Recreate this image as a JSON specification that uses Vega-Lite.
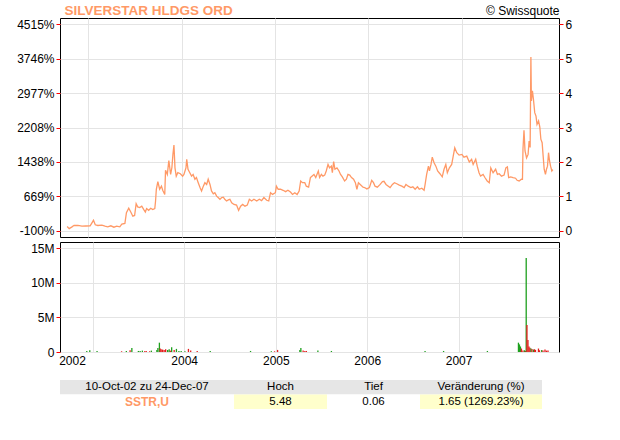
{
  "$schema": "https://vega.github.io/schema/vega-lite/v6.json",
  "background": "white",
  "padding": {"left": 16, "top": 2, "right": 5, "bottom": 5},
  "config": {
    "font": "Liberation Sans",
    "view": {"stroke": "black", "strokeWidth": 1},
    "axis": {
      "labelFont": "Liberation Sans", "labelFontSize": 12, "labelColor": "black",
      "gridColor": "#e4e4e4", "gridWidth": 1, "tickColor": "#ff0000", "tickSize": 4, "tickWidth": 1,
      "labelPadding": 2, "domain": false, "title": null
    }
  },
  "datasets": {
    "price": [
      {"date": "2002-10-10", "close": 0.13}, {"date": "2002-10-18", "close": 0.07}, {"date": "2002-10-29", "close": 0.12},
      {"date": "2002-11-06", "close": 0.165}, {"date": "2002-11-21", "close": 0.16}, {"date": "2002-12-07", "close": 0.14},
      {"date": "2002-12-22", "close": 0.145}, {"date": "2003-01-08", "close": 0.15}, {"date": "2003-01-21", "close": 0.31},
      {"date": "2003-01-28", "close": 0.18}, {"date": "2003-02-07", "close": 0.16}, {"date": "2003-02-23", "close": 0.17},
      {"date": "2003-03-07", "close": 0.14}, {"date": "2003-03-18", "close": 0.12}, {"date": "2003-03-30", "close": 0.15},
      {"date": "2003-04-11", "close": 0.11}, {"date": "2003-04-22", "close": 0.14}, {"date": "2003-05-04", "close": 0.12},
      {"date": "2003-05-12", "close": 0.20}, {"date": "2003-05-24", "close": 0.22}, {"date": "2003-05-30", "close": 0.53},
      {"date": "2003-06-08", "close": 0.66}, {"date": "2003-06-16", "close": 0.55}, {"date": "2003-06-24", "close": 0.43},
      {"date": "2003-07-01", "close": 0.45}, {"date": "2003-07-07", "close": 0.79}, {"date": "2003-07-13", "close": 0.70},
      {"date": "2003-07-21", "close": 0.68}, {"date": "2003-07-29", "close": 0.72}, {"date": "2003-08-06", "close": 0.62},
      {"date": "2003-08-12", "close": 0.55}, {"date": "2003-08-17", "close": 0.65}, {"date": "2003-08-25", "close": 0.60},
      {"date": "2003-09-02", "close": 0.66}, {"date": "2003-09-10", "close": 0.62}, {"date": "2003-09-18", "close": 0.65},
      {"date": "2003-09-21", "close": 0.87}, {"date": "2003-09-24", "close": 1.21}, {"date": "2003-09-30", "close": 1.43},
      {"date": "2003-10-07", "close": 1.21}, {"date": "2003-10-14", "close": 1.30}, {"date": "2003-10-19", "close": 1.18},
      {"date": "2003-10-27", "close": 1.06}, {"date": "2003-10-30", "close": 1.76}, {"date": "2003-11-06", "close": 1.64},
      {"date": "2003-11-12", "close": 2.04}, {"date": "2003-11-19", "close": 1.64}, {"date": "2003-11-24", "close": 1.84},
      {"date": "2003-11-28", "close": 2.22}, {"date": "2003-12-02", "close": 2.49}, {"date": "2003-12-06", "close": 1.83},
      {"date": "2003-12-11", "close": 1.59}, {"date": "2003-12-17", "close": 1.69}, {"date": "2003-12-27", "close": 1.66},
      {"date": "2004-01-05", "close": 1.59}, {"date": "2004-01-10", "close": 1.64}, {"date": "2004-01-18", "close": 1.83},
      {"date": "2004-01-21", "close": 2.08}, {"date": "2004-01-26", "close": 1.79}, {"date": "2004-02-02", "close": 1.69},
      {"date": "2004-02-09", "close": 1.59}, {"date": "2004-02-15", "close": 1.64}, {"date": "2004-02-22", "close": 1.50},
      {"date": "2004-02-28", "close": 1.55}, {"date": "2004-03-06", "close": 1.40}, {"date": "2004-03-13", "close": 1.26},
      {"date": "2004-03-19", "close": 1.16}, {"date": "2004-03-26", "close": 1.30}, {"date": "2004-04-01", "close": 1.40},
      {"date": "2004-04-08", "close": 1.35}, {"date": "2004-04-14", "close": 1.50}, {"date": "2004-04-21", "close": 1.35},
      {"date": "2004-04-27", "close": 1.16}, {"date": "2004-05-04", "close": 1.08}, {"date": "2004-05-10", "close": 1.11},
      {"date": "2004-05-17", "close": 1.01}, {"date": "2004-05-23", "close": 0.97}, {"date": "2004-05-30", "close": 0.92},
      {"date": "2004-06-06", "close": 0.97}, {"date": "2004-06-12", "close": 0.98}, {"date": "2004-06-18", "close": 0.92},
      {"date": "2004-06-25", "close": 0.87}, {"date": "2004-07-02", "close": 0.90}, {"date": "2004-07-08", "close": 0.92},
      {"date": "2004-07-15", "close": 0.82}, {"date": "2004-07-24", "close": 0.77}, {"date": "2004-08-03", "close": 0.75},
      {"date": "2004-08-11", "close": 0.60}, {"date": "2004-08-19", "close": 0.72}, {"date": "2004-08-27", "close": 0.77},
      {"date": "2004-09-05", "close": 0.72}, {"date": "2004-09-14", "close": 0.75}, {"date": "2004-09-22", "close": 0.92},
      {"date": "2004-10-01", "close": 0.87}, {"date": "2004-10-10", "close": 0.92}, {"date": "2004-10-21", "close": 0.87},
      {"date": "2004-10-31", "close": 0.92}, {"date": "2004-11-09", "close": 0.88}, {"date": "2004-11-18", "close": 0.97},
      {"date": "2004-11-29", "close": 0.89}, {"date": "2004-12-07", "close": 0.87}, {"date": "2004-12-14", "close": 1.11},
      {"date": "2004-12-22", "close": 1.06}, {"date": "2005-01-02", "close": 1.11}, {"date": "2005-01-06", "close": 1.30},
      {"date": "2005-01-13", "close": 1.21}, {"date": "2005-01-22", "close": 1.21}, {"date": "2005-02-01", "close": 1.18},
      {"date": "2005-02-11", "close": 1.14}, {"date": "2005-02-20", "close": 1.18}, {"date": "2005-03-02", "close": 1.13},
      {"date": "2005-03-10", "close": 1.06}, {"date": "2005-03-19", "close": 1.11}, {"date": "2005-03-28", "close": 1.06},
      {"date": "2005-04-05", "close": 1.16}, {"date": "2005-04-11", "close": 1.45}, {"date": "2005-04-18", "close": 1.40},
      {"date": "2005-04-27", "close": 1.40}, {"date": "2005-05-03", "close": 1.30}, {"date": "2005-05-12", "close": 1.27},
      {"date": "2005-05-19", "close": 1.55}, {"date": "2005-05-25", "close": 1.59}, {"date": "2005-06-02", "close": 1.64},
      {"date": "2005-06-09", "close": 1.55}, {"date": "2005-06-19", "close": 1.74}, {"date": "2005-06-24", "close": 1.55},
      {"date": "2005-07-01", "close": 1.64}, {"date": "2005-07-07", "close": 1.59}, {"date": "2005-07-14", "close": 1.62},
      {"date": "2005-07-20", "close": 1.74}, {"date": "2005-07-27", "close": 1.93}, {"date": "2005-08-02", "close": 1.83},
      {"date": "2005-08-09", "close": 1.88}, {"date": "2005-08-13", "close": 1.69}, {"date": "2005-08-18", "close": 2.01},
      {"date": "2005-08-23", "close": 1.79}, {"date": "2005-08-31", "close": 1.83}, {"date": "2005-09-08", "close": 1.74},
      {"date": "2005-09-14", "close": 1.64}, {"date": "2005-09-21", "close": 1.57}, {"date": "2005-09-30", "close": 1.45},
      {"date": "2005-10-07", "close": 1.50}, {"date": "2005-10-13", "close": 1.64}, {"date": "2005-10-20", "close": 1.62},
      {"date": "2005-10-27", "close": 1.55}, {"date": "2005-11-04", "close": 1.50}, {"date": "2005-11-11", "close": 1.40},
      {"date": "2005-11-17", "close": 1.21}, {"date": "2005-11-23", "close": 1.40}, {"date": "2005-11-30", "close": 1.35},
      {"date": "2005-12-11", "close": 1.27}, {"date": "2005-12-17", "close": 1.26}, {"date": "2005-12-26", "close": 1.22},
      {"date": "2006-01-05", "close": 1.26}, {"date": "2006-01-14", "close": 1.47}, {"date": "2006-01-21", "close": 1.40},
      {"date": "2006-01-27", "close": 1.30}, {"date": "2006-02-05", "close": 1.27}, {"date": "2006-02-16", "close": 1.35},
      {"date": "2006-02-25", "close": 1.43}, {"date": "2006-03-03", "close": 1.44}, {"date": "2006-03-11", "close": 1.35},
      {"date": "2006-03-20", "close": 1.30}, {"date": "2006-03-27", "close": 1.26}, {"date": "2006-04-05", "close": 1.35},
      {"date": "2006-04-13", "close": 1.40}, {"date": "2006-04-22", "close": 1.37}, {"date": "2006-05-02", "close": 1.33},
      {"date": "2006-05-12", "close": 1.30}, {"date": "2006-05-21", "close": 1.26}, {"date": "2006-05-28", "close": 1.35},
      {"date": "2006-06-06", "close": 1.30}, {"date": "2006-06-16", "close": 1.26}, {"date": "2006-06-24", "close": 1.28},
      {"date": "2006-07-03", "close": 1.21}, {"date": "2006-07-12", "close": 1.28}, {"date": "2006-07-19", "close": 1.21},
      {"date": "2006-07-29", "close": 1.24}, {"date": "2006-08-07", "close": 1.18}, {"date": "2006-08-11", "close": 1.35},
      {"date": "2006-08-17", "close": 1.64}, {"date": "2006-08-24", "close": 1.88}, {"date": "2006-08-28", "close": 1.74},
      {"date": "2006-09-03", "close": 1.93}, {"date": "2006-09-08", "close": 2.14}, {"date": "2006-09-15", "close": 1.98},
      {"date": "2006-09-22", "close": 1.88}, {"date": "2006-09-29", "close": 1.74}, {"date": "2006-10-08", "close": 1.66},
      {"date": "2006-10-17", "close": 1.57}, {"date": "2006-10-24", "close": 1.79}, {"date": "2006-10-31", "close": 1.93},
      {"date": "2006-11-06", "close": 1.69}, {"date": "2006-11-14", "close": 1.83}, {"date": "2006-11-23", "close": 1.93},
      {"date": "2006-11-29", "close": 2.17}, {"date": "2006-12-05", "close": 2.41}, {"date": "2006-12-13", "close": 2.27},
      {"date": "2006-12-22", "close": 2.20}, {"date": "2007-01-02", "close": 2.22}, {"date": "2007-01-10", "close": 2.14},
      {"date": "2007-01-21", "close": 2.17}, {"date": "2007-01-31", "close": 2.00}, {"date": "2007-02-09", "close": 2.08},
      {"date": "2007-02-15", "close": 1.93}, {"date": "2007-02-25", "close": 2.08}, {"date": "2007-03-03", "close": 1.88},
      {"date": "2007-03-10", "close": 1.69}, {"date": "2007-03-16", "close": 1.59}, {"date": "2007-03-26", "close": 1.64},
      {"date": "2007-04-02", "close": 1.55}, {"date": "2007-04-11", "close": 1.45}, {"date": "2007-04-19", "close": 1.40},
      {"date": "2007-04-25", "close": 1.83}, {"date": "2007-05-04", "close": 1.69}, {"date": "2007-05-14", "close": 1.79},
      {"date": "2007-05-21", "close": 1.64}, {"date": "2007-05-28", "close": 1.66}, {"date": "2007-06-06", "close": 1.59},
      {"date": "2007-06-16", "close": 1.62}, {"date": "2007-06-23", "close": 1.83}, {"date": "2007-06-29", "close": 1.86},
      {"date": "2007-07-04", "close": 1.55}, {"date": "2007-07-12", "close": 1.57}, {"date": "2007-07-21", "close": 1.55},
      {"date": "2007-07-31", "close": 1.53}, {"date": "2007-08-06", "close": 1.47}, {"date": "2007-08-14", "close": 1.45},
      {"date": "2007-08-23", "close": 1.50}, {"date": "2007-08-27", "close": 1.50}, {"date": "2007-08-29", "close": 2.37},
      {"date": "2007-09-02", "close": 2.92}, {"date": "2007-09-06", "close": 2.32}, {"date": "2007-09-12", "close": 2.12},
      {"date": "2007-09-18", "close": 2.22}, {"date": "2007-09-22", "close": 2.61}, {"date": "2007-09-26", "close": 2.42},
      {"date": "2007-09-29", "close": 5.04}, {"date": "2007-10-01", "close": 3.77}, {"date": "2007-10-05", "close": 4.06},
      {"date": "2007-10-09", "close": 3.82}, {"date": "2007-10-14", "close": 3.43}, {"date": "2007-10-19", "close": 3.33},
      {"date": "2007-10-23", "close": 3.09}, {"date": "2007-10-29", "close": 3.19}, {"date": "2007-11-03", "close": 3.01},
      {"date": "2007-11-07", "close": 2.66}, {"date": "2007-11-12", "close": 2.56}, {"date": "2007-11-16", "close": 2.17},
      {"date": "2007-11-20", "close": 1.79}, {"date": "2007-11-25", "close": 1.64}, {"date": "2007-11-29", "close": 1.79},
      {"date": "2007-12-03", "close": 1.88}, {"date": "2007-12-07", "close": 2.27}, {"date": "2007-12-11", "close": 2.03},
      {"date": "2007-12-15", "close": 1.88}, {"date": "2007-12-20", "close": 1.74}, {"date": "2007-12-24", "close": 1.78}
    ],
    "volume": [
      {"date": "2002-12-08", "dir": "up", "volume": 150000}, {"date": "2002-12-20", "dir": "up", "volume": 240000},
      {"date": "2003-01-18", "dir": "up", "volume": 150000}, {"date": "2003-04-26", "dir": "down", "volume": 100000},
      {"date": "2003-05-15", "dir": "up", "volume": 150000}, {"date": "2003-05-30", "dir": "down", "volume": 250000},
      {"date": "2003-06-06", "dir": "up", "volume": 580000}, {"date": "2003-07-02", "dir": "up", "volume": 150000},
      {"date": "2003-07-09", "dir": "up", "volume": 150000}, {"date": "2003-07-18", "dir": "up", "volume": 200000},
      {"date": "2003-07-28", "dir": "down", "volume": 150000}, {"date": "2003-08-03", "dir": "down", "volume": 120000},
      {"date": "2003-08-16", "dir": "down", "volume": 100000}, {"date": "2003-08-23", "dir": "up", "volume": 200000},
      {"date": "2003-09-14", "dir": "up", "volume": 300000}, {"date": "2003-09-18", "dir": "up", "volume": 580000},
      {"date": "2003-09-24", "dir": "up", "volume": 1350000}, {"date": "2003-09-27", "dir": "down", "volume": 500000},
      {"date": "2003-10-01", "dir": "down", "volume": 400000}, {"date": "2003-10-07", "dir": "down", "volume": 350000},
      {"date": "2003-10-13", "dir": "down", "volume": 300000}, {"date": "2003-10-19", "dir": "down", "volume": 380000},
      {"date": "2003-10-27", "dir": "up", "volume": 300000}, {"date": "2003-11-02", "dir": "up", "volume": 400000},
      {"date": "2003-11-07", "dir": "down", "volume": 200000}, {"date": "2003-11-12", "dir": "up", "volume": 700000},
      {"date": "2003-11-22", "dir": "down", "volume": 300000}, {"date": "2003-12-01", "dir": "up", "volume": 450000},
      {"date": "2003-12-11", "dir": "up", "volume": 150000}, {"date": "2003-12-20", "dir": "up", "volume": 150000},
      {"date": "2004-01-04", "dir": "up", "volume": 120000}, {"date": "2004-01-18", "dir": "down", "volume": 450000},
      {"date": "2004-01-27", "dir": "down", "volume": 200000}, {"date": "2004-02-22", "dir": "down", "volume": 150000},
      {"date": "2004-04-14", "dir": "up", "volume": 150000}, {"date": "2004-09-22", "dir": "up", "volume": 150000},
      {"date": "2004-12-14", "dir": "up", "volume": 100000}, {"date": "2004-12-27", "dir": "down", "volume": 100000},
      {"date": "2005-01-08", "dir": "down", "volume": 300000}, {"date": "2005-04-07", "dir": "up", "volume": 300000},
      {"date": "2005-04-11", "dir": "up", "volume": 580000}, {"date": "2005-04-20", "dir": "down", "volume": 200000},
      {"date": "2005-04-27", "dir": "down", "volume": 150000}, {"date": "2005-05-03", "dir": "down", "volume": 150000},
      {"date": "2005-06-18", "dir": "up", "volume": 200000}, {"date": "2005-08-11", "dir": "up", "volume": 150000},
      {"date": "2006-08-20", "dir": "up", "volume": 150000}, {"date": "2006-11-02", "dir": "up", "volume": 150000},
      {"date": "2007-04-26", "dir": "up", "volume": 150000}, {"date": "2007-08-28", "dir": "up", "volume": 1350000},
      {"date": "2007-09-01", "dir": "up", "volume": 1100000}, {"date": "2007-09-05", "dir": "up", "volume": 800000},
      {"date": "2007-09-09", "dir": "down", "volume": 500000}, {"date": "2007-09-15", "dir": "down", "volume": 200000},
      {"date": "2007-09-21", "dir": "up", "volume": 250000}, {"date": "2007-09-25", "dir": "down", "volume": 150000},
      {"date": "2007-09-28", "dir": "up", "volume": 13600000}, {"date": "2007-10-01", "dir": "down", "volume": 3900000},
      {"date": "2007-10-05", "dir": "down", "volume": 1730000}, {"date": "2007-10-09", "dir": "down", "volume": 800000},
      {"date": "2007-10-13", "dir": "down", "volume": 600000}, {"date": "2007-10-17", "dir": "up", "volume": 500000},
      {"date": "2007-10-21", "dir": "down", "volume": 450000}, {"date": "2007-10-27", "dir": "up", "volume": 350000},
      {"date": "2007-10-31", "dir": "down", "volume": 400000}, {"date": "2007-11-04", "dir": "down", "volume": 300000},
      {"date": "2007-11-16", "dir": "down", "volume": 500000}, {"date": "2007-11-20", "dir": "down", "volume": 250000},
      {"date": "2007-11-29", "dir": "up", "volume": 300000}, {"date": "2007-12-04", "dir": "down", "volume": 200000},
      {"date": "2007-12-12", "dir": "down", "volume": 350000}, {"date": "2007-12-18", "dir": "down", "volume": 200000},
      {"date": "2007-12-24", "dir": "down", "volume": 200000}
    ],
    "table": [
      {"col": 1, "row": 1, "text": "10-Oct-02 zu 24-Dec-07"},
      {"col": 1, "row": 2, "text": "SSTR,U"},
      {"col": 2, "row": 1, "text": "Hoch"},
      {"col": 2, "row": 2, "text": "5.48"},
      {"col": 3, "row": 1, "text": "Tief"},
      {"col": 3, "row": 2, "text": "0.06"},
      {"col": 4, "row": 1, "text": "Veränderung (%)"},
      {"col": 4, "row": 2, "text": "1.65 (1269.23%)"}
    ]
  },
  "spacing": 13,
  "vconcat": [
    {
      "spacing": 3,
      "vconcat": [
        {
          "width": 499,
          "height": 219,
          "data": {"name": "price"},
          "layer": [
            {
              "mark": {"type": "line", "color": "#ff9966", "strokeWidth": 1.3},
              "encoding": {
                "x": {
                  "field": "date", "type": "temporal",
                  "scale": {"domain": [{"year": 2002, "month": 9, "date": 12}, {"year": 2008, "month": 1, "date": 17}]},
                  "axis": {
                    "values": [{"year": 2002, "month": 10, "date": 10}, {"year": 2003, "month": 1, "date": 1}, {"year": 2004, "month": 1, "date": 1}, {"year": 2005, "month": 1, "date": 1}, {"year": 2006, "month": 1, "date": 1}, {"year": 2007, "month": 1, "date": 1}],
                    "labels": false, "ticks": false, "grid": true,
                    "gridOpacity": {"condition": {"test": "datum.value < datetime(2002, 11, 1)", "value": 0}, "value": 1}
                  }
                },
                "y": {
                  "field": "close", "type": "quantitative",
                  "scale": {"domain": [-0.174, 6.174], "nice": false, "zero": false},
                  "axis": {
                    "orient": "left", "values": [0, 1, 2, 3, 4, 5, 6], "grid": true,
                    "labelExpr": "round((datum.value / 0.13 - 1) * 100) + '%'",
                    "title": "SILVERSTAR HLDGS ORD", "titleAngle": 0, "titleAlign": "left", "titleBaseline": "alphabetic",
                    "titleX": 4, "titleY": -4, "titleFontSize": 13.5, "titleFontWeight": "bold", "titleColor": "#ff9966", "titleFont": "Liberation Sans"
                  }
                }
              }
            },
            {
              "mark": {"type": "line", "opacity": 0},
              "encoding": {
                "x": {"field": "date", "type": "temporal"},
                "y": {
                  "field": "close", "type": "quantitative",
                  "scale": {"domain": [-0.174, 6.174], "nice": false, "zero": false},
                  "axis": {
                    "orient": "right", "values": [0, 1, 2, 3, 4, 5, 6], "grid": false, "format": "d",
                    "title": "© Swissquote", "titleAngle": 0, "titleAlign": "right", "titleBaseline": "alphabetic",
                    "titleX": 0, "titleY": -4, "titleFontSize": 12, "titleFontWeight": "normal", "titleColor": "black", "titleFont": "Liberation Sans"
                  }
                }
              }
            }
          ],
          "resolve": {"scale": {"y": "independent"}}
        },
        {
          "width": 499,
          "height": 110,
          "data": {"name": "volume"},
          "mark": {"type": "bar", "size": 1.3},
          "encoding": {
            "x": {
              "field": "date", "type": "temporal",
              "scale": {"domain": [{"year": 2002, "month": 9, "date": 12}, {"year": 2008, "month": 1, "date": 17}]},
              "axis": {
                "values": [{"year": 2002, "month": 10, "date": 10}, {"year": 2003, "month": 1, "date": 1}, {"year": 2004, "month": 1, "date": 1}, {"year": 2005, "month": 1, "date": 1}, {"year": 2006, "month": 1, "date": 1}, {"year": 2007, "month": 1, "date": 1}],
                "labelExpr": "year(datum.value) == 2003 ? '' : timeFormat(datum.value, '%Y')",
                "ticks": false, "grid": true, "labelFlush": false, "labelOverlap": false, "labelPadding": 3,
                "gridOpacity": {"condition": {"test": "datum.value < datetime(2002, 11, 1)", "value": 0}, "value": 1}
              }
            },
            "y": {
              "field": "volume", "type": "quantitative",
              "scale": {"domain": [0, 15900000], "nice": false},
              "axis": {"values": [0, 5000000, 10000000, 15000000], "grid": true, "labelExpr": "datum.value == 0 ? '0' : (datum.value / 1000000) + 'M'"}
            },
            "color": {"field": "dir", "type": "nominal", "scale": {"domain": ["up", "down"], "range": ["#1ea01e", "#e41c1c"]}, "legend": null}
          }
        }
      ]
    },
    {
      "spacing": 0,
      "hconcat": [
        {
          "width": 174, "height": 29, "view": {"stroke": null},
          "data": {"name": "table"},
          "transform": [{"filter": "datum.col == 1"}],
          "layer": [
            {"mark": {"type": "rect"}, "encoding": {"x": {"value": 0}, "x2": {"value": "width"}, "y": {"field": "row", "type": "ordinal", "axis": null, "scale": {"paddingInner": 0, "paddingOuter": 0}}, "fill": {"condition": {"test": "datum.row == 1", "value": "#e6e6e6"}, "value": "white"}}},
            {"transform": [{"filter": "datum.row == 1"}], "mark": {"type": "text", "fontSize": 11.5, "font": "Liberation Sans", "color": "black"}, "encoding": {"y": {"field": "row", "type": "ordinal", "axis": null}, "text": {"field": "text"}}},
            {"transform": [{"filter": "datum.row == 2"}], "mark": {"type": "text", "fontSize": 12, "fontWeight": "bold", "font": "Liberation Sans", "color": "#ff9966"}, "encoding": {"y": {"field": "row", "type": "ordinal", "axis": null}, "text": {"field": "text"}}}
          ]
        },
        {
          "width": 93, "height": 29, "view": {"stroke": null},
          "data": {"name": "table"},
          "transform": [{"filter": "datum.col == 2"}],
          "layer": [
            {"mark": {"type": "rect"}, "encoding": {"x": {"value": 0}, "x2": {"value": "width"}, "y": {"field": "row", "type": "ordinal", "axis": null, "scale": {"paddingInner": 0, "paddingOuter": 0}}, "fill": {"condition": {"test": "datum.row == 1", "value": "#e6e6e6"}, "value": "#ffffcc"}}},
            {"mark": {"type": "text", "fontSize": 11.5, "font": "Liberation Sans", "color": "black"}, "encoding": {"y": {"field": "row", "type": "ordinal", "axis": null}, "text": {"field": "text"}}}
          ]
        },
        {
          "width": 93, "height": 29, "view": {"stroke": null},
          "data": {"name": "table"},
          "transform": [{"filter": "datum.col == 3"}],
          "layer": [
            {"mark": {"type": "rect"}, "encoding": {"x": {"value": 0}, "x2": {"value": "width"}, "y": {"field": "row", "type": "ordinal", "axis": null, "scale": {"paddingInner": 0, "paddingOuter": 0}}, "fill": {"condition": {"test": "datum.row == 1", "value": "#e6e6e6"}, "value": "white"}}},
            {"mark": {"type": "text", "fontSize": 11.5, "font": "Liberation Sans", "color": "black"}, "encoding": {"y": {"field": "row", "type": "ordinal", "axis": null}, "text": {"field": "text"}}}
          ]
        },
        {
          "width": 122, "height": 29, "view": {"stroke": null},
          "data": {"name": "table"},
          "transform": [{"filter": "datum.col == 4"}],
          "layer": [
            {"mark": {"type": "rect"}, "encoding": {"x": {"value": 0}, "x2": {"value": "width"}, "y": {"field": "row", "type": "ordinal", "axis": null, "scale": {"paddingInner": 0, "paddingOuter": 0}}, "fill": {"condition": {"test": "datum.row == 1", "value": "#e6e6e6"}, "value": "#ffffcc"}}},
            {"mark": {"type": "text", "fontSize": 11.5, "font": "Liberation Sans", "color": "black"}, "encoding": {"y": {"field": "row", "type": "ordinal", "axis": null}, "text": {"field": "text"}}}
          ]
        }
      ]
    }
  ]
}
